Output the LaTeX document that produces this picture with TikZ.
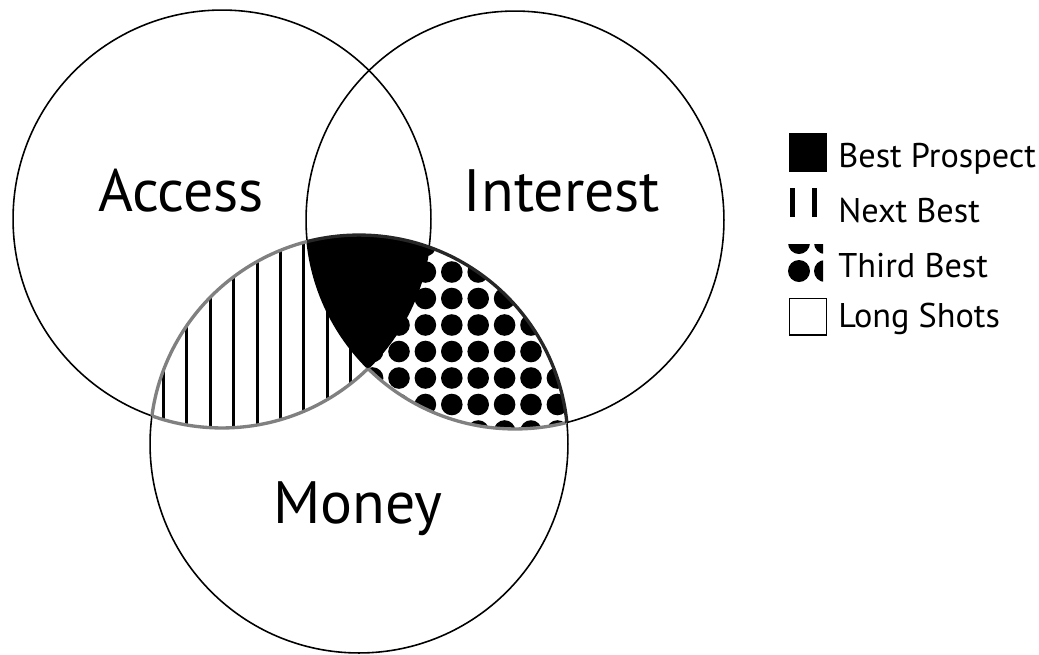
\documentclass[tikz,border=0pt]{standalone}
\usepackage{fontspec}
\setmainfont{PT Sans}
\begin{document}
\begin{tikzpicture}[x=0.02cm,y=-0.02cm,
  ring/.style={draw=black,line width=0.9pt},
  rim/.style={draw=black!50,line width=1.9pt},
  setname/.style={font=\fontsize{34}{40}\selectfont,anchor=base,inner sep=0pt},
  keytext/.style={font=\fontsize{19.5}{23}\selectfont,anchor=base west,inner sep=0pt},
  hatchline/.style={line width=1.7pt}]
\def\R{4.18cm}
\useasboundingbox (0,0) rectangle (1039,654);
\coordinate (A) at (222,219);
\coordinate (I) at (515,220);
\coordinate (M) at (359,444);

% the three sets
\draw[ring] (A) circle (\R);
\draw[ring] (I) circle (\R);
\draw[ring] (M) circle (\R);

% Access and Money: vertical hatching
\begin{scope}
  \clip (A) circle (\R);
  \clip (M) circle (\R);
  \foreach \k in {0,...,9}
    \draw[hatchline] ({163.5+23.4*\k},150) -- ++(0,300);
\end{scope}

% Interest and Money: dot pattern
\begin{scope}
  \clip (I) circle (\R);
  \clip (M) circle (\R);
  \foreach \i in {-4,...,7}
    \foreach \j in {-2,...,7}
      \fill ({399+26.4*\i},{272+26.5*\j}) circle (0.216cm);
\end{scope}

% all three: solid
\begin{scope}
  \clip (A) circle (\R);
  \clip (I) circle (\R);
  \fill (M) circle (\R);
\end{scope}

% outline of the shaded area
\begin{scope}
  \clip (A) circle (\R);
  \begin{scope}[even odd rule]
    \clip (-50,-50) rectangle (1100,700) (I) circle (\R);
    \draw[rim] (M) circle (\R);
  \end{scope}
\end{scope}
\begin{scope}
  \clip (M) circle (\R);
  \begin{scope}[even odd rule]
    \clip (-50,-50) rectangle (1100,700) (I) circle (\R);
    \draw[rim] (A) circle (\R);
  \end{scope}
\end{scope}
\begin{scope}
  \clip (M) circle (\R);
  \begin{scope}[even odd rule]
    \clip (-50,-50) rectangle (1100,700) (A) circle (\R);
    \draw[rim] (I) circle (\R);
  \end{scope}
\end{scope}
\begin{scope}
  \clip (I) circle (\R);
  \draw[black!85,line width=1.9pt] (M) circle (\R);
\end{scope}

% set names
\node[setname] (access) at (181,211) {Access};
\node[setname] (interest) at (562,211) {Interest};
\node[setname] (money) at (358,523) {Money};

% legend swatches
\fill (789,133) rectangle (827,172);
\fill (790,188) rectangle (794.5,217);
\fill (812,188) rectangle (816.5,217);
\begin{scope}
  \clip (787,244) rectangle (823,283);
  \foreach \p in {(799,243),(825,243),(799,271),(825,271)}
    \fill \p circle (0.22cm);
\end{scope}
\draw[line width=0.9pt] (789.5,298.5) rectangle (826.5,335);

% legend text
\node[keytext] (kbest) at (838,167) {Best Prospect};
\node[keytext] (knext) at (838,222) {Next Best};
\node[keytext] (kthird) at (838,277) {Third Best};
\node[keytext] (klong) at (838,327) {Long Shots};
\end{tikzpicture}
\end{document}
